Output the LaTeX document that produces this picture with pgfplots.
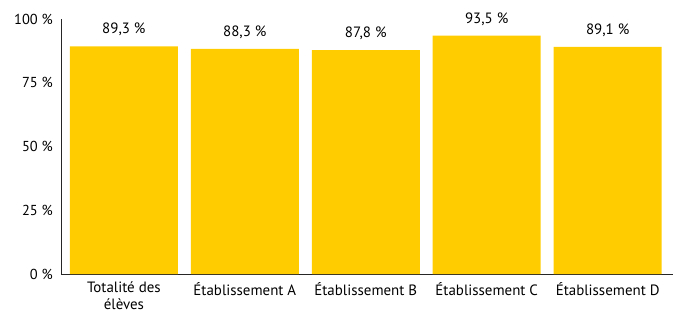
\documentclass[border=0pt]{standalone}
\usepackage{pgfplots}
\pgfplotsset{compat=1.18}
\usepackage{fontspec}
\setmainfont{PT Sans}
\definecolor{baryellow}{HTML}{FFCC00}
\begin{document}
\begin{tikzpicture}[x=1bp,y=1bp]
\path[use as bounding box] (-61bp,-36bp) rectangle (614bp,274bp);
\begin{axis}[
  at={(0,0)}, anchor=south west,
  scale only axis,
  width=612bp, height=255bp,
  xmin=-0.52, xmax=4.54,
  ymin=0, ymax=100,
  axis x line=bottom, axis y line=left,
  axis line style={-, draw=black!85, line width=0.8pt},
  ytick={0,25,50,75,100},
  yticklabel={\pgfmathprintnumber{\tick}~\%},
  /pgf/number format/assume math mode=true,
  xtick=data,
  xticklabels={{Totalité des\\élèves},{Établissement A},{Établissement B},{Établissement C},{Établissement D}},
  xticklabel style={align=center, font=\fontsize{15}{17}\selectfont, inner sep=0pt, yshift=-8bp, anchor=north},
  yticklabel style={font=\fontsize{14.5}{14.5}\selectfont, inner sep=0pt, xshift=-8bp, anchor=east},
  major tick length=0pt,
  ybar, bar width=108bp, bar shift=0pt,
  nodes near coords={\pgfmathprintnumber[fixed,fixed zerofill,precision=1,use comma]{\pgfplotspointmeta}~\%},
  nodes near coords style={font=\fontsize{15}{15}\selectfont, anchor=south, inner sep=0pt, yshift=10bp, /pgf/number format/assume math mode=true},
  clip=false,
]
\addplot[fill=baryellow, draw=none] coordinates {(0,89.3) (1,88.3) (2,87.8) (3,93.5) (4,89.1)};
\end{axis}
\end{tikzpicture}
\end{document}
